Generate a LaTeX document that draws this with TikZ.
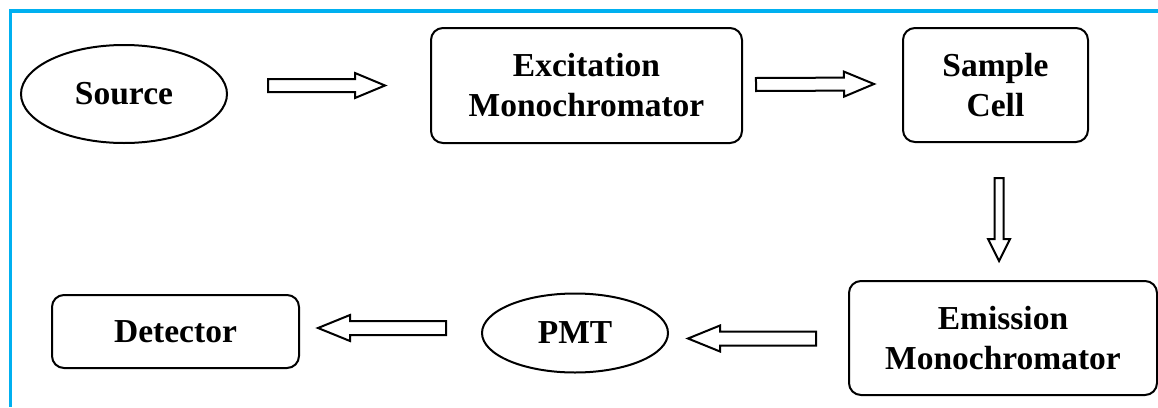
\documentclass[tikz,border=0pt]{standalone}
\usepackage{fontspec}
\setmainfont{Liberation Serif}
\usetikzlibrary{shapes.geometric,calc}

\definecolor{framecyan}{RGB}{0,176,240}

\tikzset{
  label text/.style={font=\bfseries\fontsize{33.5}{40}\selectfont, align=center, text=black},
  roundbox/.style={label text, draw=black, line width=2pt, rounded corners=12pt,
                   inner sep=0pt},
  ovalbox/.style={label text, ellipse, draw=black, line width=2pt, inner sep=0pt},
  blockarr/.style={draw=black, fill=white, line width=2pt, line join=miter},
}

% hollow block arrow from #1 to #2; #3 shaft half-width, #4 head half-width, #5 head length
\newcommand\blockarrow[5]{%
  \coordinate (ba-s) at #1;
  \coordinate (ba-e) at #2;
  \coordinate (ba-b) at ($(ba-e)!#5!(ba-s)$);
  \draw[blockarr]
    ($(ba-s)!#3!90:(ba-e)$) -- ($(ba-b)!#3!90:(ba-e)$) --
    ($(ba-b)!#4!90:(ba-e)$) -- (ba-e) --
    ($(ba-b)!#4!-90:(ba-e)$) -- ($(ba-b)!#3!-90:(ba-e)$) --
    ($(ba-s)!#3!-90:(ba-e)$) -- cycle;
}

\begin{document}
\begin{tikzpicture}[x=1pt,y=-1pt]
  \useasboundingbox (0,0) rectangle (1158,407);

  % open frame along the top and left edges
  \draw[framecyan, line width=3.2pt] (1158,11) -- (10.5,11) -- (10.5,407);

  % blocks
  \node[ovalbox, minimum width=206pt, minimum height=98pt] (source) at (124,94) {Source};
  \node[roundbox, minimum width=311pt, minimum height=115pt] (excit) at (586.5,85.5)
       {Excitation\\Monochromator};
  \node[roundbox, minimum width=185pt, minimum height=114pt] (sample) at (995.5,85)
       {Sample\\Cell};
  \node[roundbox, minimum width=308pt, minimum height=114pt] (emission) at (1003,338)
       {Emission\\Monochromator};
  \node[ovalbox, minimum width=186pt, minimum height=79pt] (pmt) at (575,333) {PMT};
  \node[roundbox, minimum width=247pt, minimum height=73pt] (detector) at (175.5,331.5)
       {Detector};

  % flow arrows
  \blockarrow{($(source.east |- excit.west)+(40,0)$)}{($(excit.west)+(-45,0)$)}{6.5pt}{12.5pt}{30pt}
  \blockarrow{($(excit.east)+(13,-1)$)}{($(sample.west)+(-28,-1)$)}{6.5pt}{12.5pt}{30pt}
  \blockarrow{($(sample.south)+(3.5,35)$)}{($(sample.south |- emission.north)+(3.5,-19)$)}{4.5pt}{11pt}{22pt}
  \blockarrow{($(emission.west)+(-32,0.5)$)}{($(pmt.east |- emission.west)+(19,0.5)$)}{7pt}{13pt}{32pt}
  \blockarrow{($(pmt.west)+(-35,-5)$)}{($(detector.east |- pmt.west)+(18,-5)$)}{7pt}{13pt}{32pt}
\end{tikzpicture}
\end{document}
